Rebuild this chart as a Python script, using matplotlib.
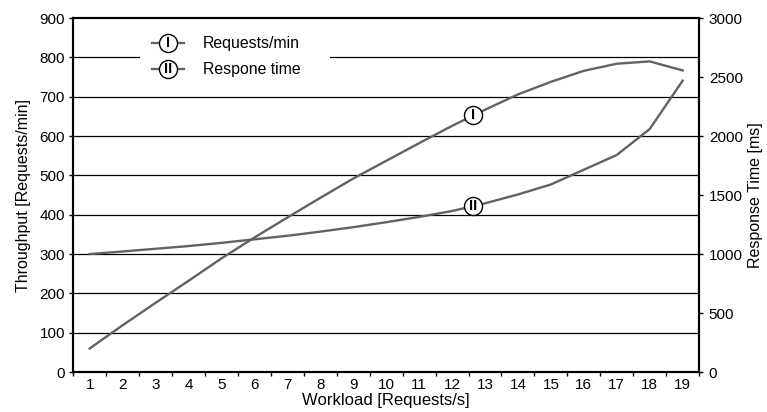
import numpy as np
import matplotlib
matplotlib.use("Agg")
import matplotlib.pyplot as plt
from matplotlib.patches import Rectangle

# workload categories 1..19
workload = list(range(1, 20))
throughput = [60, 119, 176, 232, 289, 342, 393, 443, 492, 537,
              582, 626, 667, 706, 738, 766, 784, 790, 767]
response = [1000, 1022, 1045, 1068, 1095, 1125, 1155, 1190, 1228, 1270,
            1315, 1365, 1430, 1505, 1590, 1715, 1840, 2060, 2470]
series_labels = ["Requests/min", "Respone time"]
numerals = ["I", "II"]
mark_at = 12.65

plt.rcParams['font.family'] = ['Liberation Sans', 'DejaVu Sans']
plt.rcParams['font.size'] = 11

fig = plt.figure(figsize=(7.67, 4.12), dpi=100)
ax = fig.add_axes([0.0955, 0.097, 0.816, 0.859])
ax2 = ax.twinx()

line_c = '#626262'
ax.plot(workload, throughput, color=line_c, lw=1.7, zorder=3)
ax2.plot(workload, response, color=line_c, lw=1.7, zorder=3)

ax.set_xlim(0.5, 19.5)
ax.set_ylim(0, 900)
ax2.set_ylim(0, 3000)

# x: labels at category centers, ticks at boundaries
ax.set_xticks(np.arange(0.5, 19.6, 1))
ax.set_xticklabels([])
ax.set_xticks(workload, minor=True)
ax.set_xticklabels([str(w) for w in workload], minor=True)
ax.tick_params(axis='x', which='minor', length=0, pad=4)
ax.tick_params(axis='x', which='major', length=3, width=1)

ax.set_yticks(range(0, 901, 100))
ax2.set_yticks(range(0, 3001, 500))
ax.tick_params(axis='y', length=3, width=1, pad=3)
ax2.tick_params(axis='y', length=3, width=1, pad=4)

for a in (ax, ax2):
    for s in a.spines.values():
        s.set_linewidth(1.5)
        s.set_color('black')

# horizontal gridlines
for v in range(100, 900, 100):
    ax.axhline(v, color='black', lw=0.9, zorder=1)

ax.set_xlabel("Workload [Requests/s]", fontsize=12, labelpad=1)
ax.set_ylabel("Throughput [Requests/min]", fontsize=11.5, labelpad=6)
ax2.set_ylabel("Response Time [ms]", fontsize=11.5, labelpad=4)


def numeral_mark(axis, x, y, txt, transform=None):
    kw = {} if transform is None else {'transform': transform}
    axis.plot([x], [y], marker='o', ms=13, mfc='white', mec='black',
              mew=1.0, zorder=6, **kw)
    axis.text(x, y, txt, ha='center', va='center', fontsize=10.5,
              fontweight='bold', zorder=7, **kw)


numeral_mark(ax, mark_at, np.interp(mark_at, workload, throughput), numerals[0])
numeral_mark(ax2, mark_at, np.interp(mark_at, workload, response), numerals[1])

# legend drawn manually, positions in axes fractions
ax_w = 0.816 * 767
ax_h = 0.859 * 412
x0 = 74


def fx(px):
    return (px - x0) / ax_w


def fy(py):
    return (372 - py) / ax_h


ax.add_patch(Rectangle((fx(141), fy(82)), fx(331) - fx(141), fy(30) - fy(82),
                       transform=ax.transAxes, facecolor='white',
                       edgecolor='none', zorder=4))
for i, (lab, num) in enumerate(zip(series_labels, numerals)):
    yy = fy(43 + 26 * i)
    ax.plot([fx(153), fx(185)], [yy, yy], color=line_c, lw=1.6,
            transform=ax.transAxes, zorder=5)
    numeral_mark(ax, fx(169), yy, num, transform=ax.transAxes)
    ax.text(fx(204), yy, lab, transform=ax.transAxes, ha='left',
            va='center', fontsize=11.4, zorder=7)

fig.savefig("out.png", dpi=100)
